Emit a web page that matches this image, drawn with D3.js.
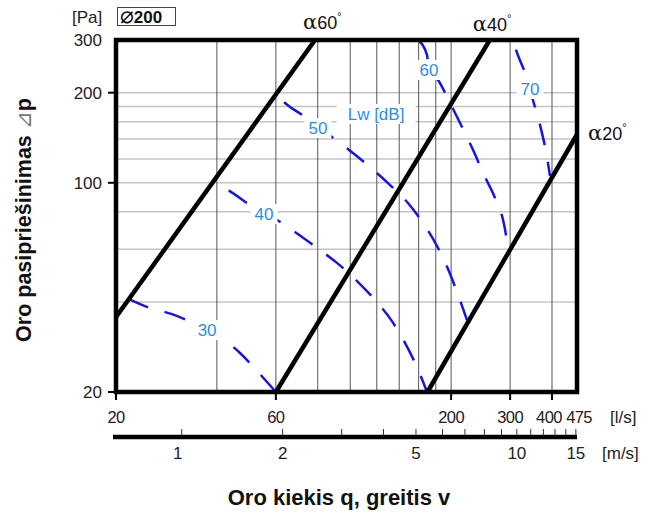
<!DOCTYPE html>
<html>
<head>
<meta charset="utf-8">
<script src="https://cdn.jsdelivr.net/npm/d3@7"></script>
<style>
  body { margin: 0; background: #fff; }
  text { font-family: "Liberation Sans", Arial, sans-serif; }
</style>
</head>
<body>
<svg id="chart" width="662" height="513"></svg>
<script>
// axis values
var flowTicks = [20, 60, 200, 300, 400, 475];
var flowGrid = [40, 60, 80, 100, 120, 140, 160, 180, 200, 300, 400];
var pressureTicks = [20, 100, 200, 300];
var pressureGrid = [40, 60, 80, 100, 120, 140, 160, 180, 200];
var speedTicks = [1, 2, 3, 4, 5, 6, 7, 8, 9, 10, 11, 12, 13, 14, 15];
var speedLabels = [1, 2, 5, 10, 15];

// damper angle lines [q l/s, dp Pa]
var alpha60 = [[20, 35.6], [78.5, 300]];
var alpha40 = [[60, 20], [261, 300]];
var alpha20 = [[170, 20], [475, 145]];
var alphaNames = ["60", "40", "20"];

// sound power lines Lw [dB]
var lw30 = [[21.7, 41], [24.7, 38.5], [29.4, 36.4], [34, 34], [37.4, 32.2], [40.9, 30.5], [46.9, 27], [53.1, 23.3], [60, 20]];
var lw40 = [[39.2, 100.6], [43.2, 94.6], [50.2, 84.3], [55.3, 78.7], [60.5, 75.1], [68.4, 68.5], [79.6, 60.6], [91.3, 54], [105.5, 46.6], [118.6, 40.6], [133.2, 34.5], [145.7, 29.2], [158.2, 24.2], [169.5, 20]];
var lw50 = [[60.5, 196.5], [63.9, 184.8], [73.3, 165.9], [80.1, 152.4], [88.2, 142.2], [99.2, 128.7], [114.6, 112.9], [129.6, 99.8], [148.7, 85.6], [167.2, 71.7], [181.5, 61.5], [195.8, 51.5], [209.8, 42.2], [223, 34.8]];
var lw60 = [[159.3, 300], [169.5, 267.2], [171.8, 238.2], [182.8, 220.6], [198.5, 184.8], [215.6, 153.6], [232.6, 128.7], [250.8, 106.2], [270.4, 89], [287.6, 72.8], [295.6, 61]];
var lw70 = [[306, 300], [312.4, 277.8], [332.4, 232.8], [344, 205.8], [351, 189.1], [368.4, 156], [384, 126.8], [394.6, 105.4]];
var lwLabels = [["30", 37.4, 32.2], ["40", 55.3, 78.7], ["50", 80.1, 152.4], ["60", 171.8, 238.2], ["70", 344, 205.8], ["Lw [dB]", 119.4, 169.8]];

var ductArea = 31.42; // l/s per m/s for diameter 200

var svg = d3.select('#chart');

var x = d3.scaleLog().domain([20, 475]).range([116, 577]);
var y = d3.scaleLog().domain([20, 300]).range([392, 40]);
var v = d3.scaleLog().domain([20 / ductArea, 475 / ductArea]).range([116, 577]);

var blue = '#1616e0', labelBlue = '#2c8ee6';

// grid
svg.append('g').selectAll('line').data(pressureGrid).enter().append('line')
  .attr('x1', x(20)).attr('x2', x(475))
  .attr('y1', function(d) { return y(d); }).attr('y2', function(d) { return y(d); })
  .attr('stroke', '#c4c4c4').attr('stroke-width', 1.5);

svg.append('g').selectAll('line').data(flowGrid).enter().append('line')
  .attr('x1', function(d) { return x(d); }).attr('x2', function(d) { return x(d); })
  .attr('y1', y(20)).attr('y2', y(300))
  .attr('stroke', '#555').attr('stroke-width', 1);

// Lw curves
var line = d3.line()
  .x(function(d) { return x(d[0]); })
  .y(function(d) { return y(d[1]); })
  .curve(d3.curveMonotoneX);

var dashStart = [0, 22, 29, 0, 29]; // dash phase per curve
svg.append('g').selectAll('path').data([lw30, lw40, lw50, lw60, lw70]).enter().append('path')
  .attr('d', line)
  .attr('fill', 'none')
  .attr('stroke', blue)
  .attr('stroke-width', 2.5)
  .attr('stroke-dasharray', '22,17')
  .attr('stroke-dashoffset', function(d, i) { return dashStart[i]; });

// Lw labels with white backing
var lab = svg.append('g').selectAll('g').data(lwLabels).enter().append('g')
  .attr('transform', function(d) { return 'translate(' + x(d[1]) + ',' + y(d[2]) + ')'; });
lab.append('rect')
  .attr('x', function(d) { return -d[0].length * 5.2 - 3; })
  .attr('y', -10)
  .attr('width', function(d) { return d[0].length * 10.4 + 6; })
  .attr('height', 20)
  .attr('fill', '#fff');
lab.append('text')
  .attr('text-anchor', 'middle')
  .attr('dy', 6)
  .attr('font-size', 17)
  .attr('fill', labelBlue)
  .text(function(d) { return d[0]; });

// alpha lines
var alphaLines = [alpha60, alpha40, alpha20];
svg.append('g').selectAll('path').data(alphaLines).enter().append('path')
  .attr('d', d3.line().x(function(d) { return x(d[0]); }).y(function(d) { return y(d[1]); }))
  .attr('fill', 'none')
  .attr('stroke', '#000')
  .attr('stroke-width', 4.5);

var alphaOffsets = [[-12, -11], [-17, -9], [11, 5]];
var at = svg.append('g').selectAll('text').data(alphaLines).enter().append('text')
  .attr('x', function(d, i) { return x(d[1][0]) + alphaOffsets[i][0]; })
  .attr('y', function(d, i) { return y(d[1][1]) + alphaOffsets[i][1]; })
  .attr('font-size', 18)
  .attr('fill', '#111');
at.append('tspan').attr('font-family', '"DejaVu Serif", serif').attr('font-size', 21).text('α');
at.append('tspan').text(function(d, i) { return alphaNames[i]; });
at.append('tspan').attr('font-size', 11).attr('dy', -9).text('°');

// frame
svg.append('rect')
  .attr('x', x(20)).attr('y', y(300))
  .attr('width', x(475) - x(20)).attr('height', y(20) - y(300))
  .attr('fill', 'none').attr('stroke', '#000').attr('stroke-width', 4.5);

// flow axis (bottom)
svg.append('g').selectAll('line').data(flowTicks.slice(0, 5)).enter().append('line')
  .attr('x1', function(d) { return x(d); }).attr('x2', function(d) { return x(d); })
  .attr('y1', y(20)).attr('y2', y(20) + 8)
  .attr('stroke', '#000').attr('stroke-width', 2);
svg.append('g').selectAll('text').data(flowTicks).enter().append('text')
  .attr('x', function(d) { return x(d) + (d === 475 ? 2 : d === 400 ? -3 : 0); })
  .attr('y', 423)
  .attr('text-anchor', 'middle')
  .attr('font-size', 16.5)
  .attr('letter-spacing', -0.6)
  .attr('fill', '#222')
  .text(function(d) { return d; });
svg.append('text').attr('x', 610).attr('y', 423).attr('font-size', 17).attr('fill', '#222').text('[l/s]');

// pressure axis (left)
svg.append('g').selectAll('line').data(pressureTicks.slice(0, 3)).enter().append('line')
  .attr('x1', x(20) - 8).attr('x2', x(20))
  .attr('y1', function(d) { return y(d); }).attr('y2', function(d) { return y(d); })
  .attr('stroke', '#000').attr('stroke-width', 2);
svg.append('g').selectAll('text').data(pressureTicks).enter().append('text')
  .attr('x', 102)
  .attr('y', function(d) { return y(d) + 6; })
  .attr('text-anchor', 'end')
  .attr('font-size', 17)
  .attr('fill', '#222')
  .text(function(d) { return d; });
svg.append('text').attr('x', 72).attr('y', 23).attr('font-size', 17).attr('fill', '#222').text('[Pa]');

// diameter box
svg.append('rect').attr('x', 117.5).attr('y', 7.5).attr('width', 58).attr('height', 18)
  .attr('fill', 'none').attr('stroke', '#444').attr('stroke-width', 1);
var dia = svg.append('text').attr('x', 120).attr('y', 23).attr('font-size', 17).attr('fill', '#111');
dia.append('tspan').attr('font-family', '"DejaVu Sans", sans-serif').attr('font-size', 23).text('⌀');
dia.append('tspan').attr('font-weight', 'bold').attr('dx', 0).text('200');

// velocity axis
svg.append('line').attr('x1', 113).attr('x2', 577).attr('y1', 437).attr('y2', 437)
  .attr('stroke', '#000').attr('stroke-width', 4.5);
svg.append('g').selectAll('line').data(speedTicks).enter().append('line')
  .attr('x1', function(d) { return v(d); }).attr('x2', function(d) { return v(d); })
  .attr('y1', 429).attr('y2', 436)
  .attr('stroke', '#333').attr('stroke-width', 1);
svg.append('g').selectAll('text').data(speedLabels).enter().append('text')
  .attr('x', function(d) { return v(d) - (d === 1 ? 4 : 0); })
  .attr('y', 459)
  .attr('text-anchor', 'middle')
  .attr('font-size', 17)
  .attr('fill', '#222')
  .text(function(d) { return d; });
svg.append('text').attr('x', 602).attr('y', 459).attr('font-size', 17).attr('fill', '#222').text('[m/s]');

// titles
var yt = svg.append('text')
  .attr('transform', 'translate(31,220) rotate(-90)')
  .attr('text-anchor', 'middle')
  .attr('font-size', 21.5).attr('font-weight', 'bold').attr('fill', '#111');
yt.append('tspan').text('Oro pasipriešinimas ');
yt.append('tspan').attr('font-weight', 'normal').attr('fill', '#777').attr('font-family', '"DejaVu Sans", sans-serif').text('⊿');
yt.append('tspan').text('p');
svg.append('text')
  .attr('x', 339).attr('y', 505)
  .attr('text-anchor', 'middle')
  .attr('font-size', 22).attr('font-weight', 'bold').attr('fill', '#111')
  .text('Oro kiekis q, greitis v');
</script>
</body>
</html>
